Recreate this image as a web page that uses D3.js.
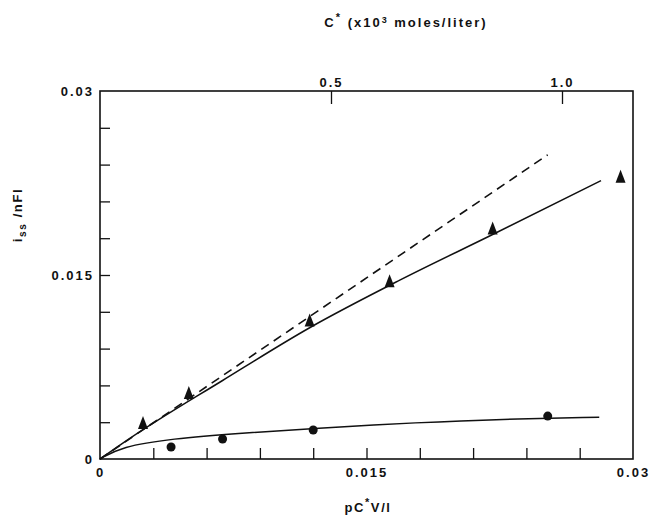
<!DOCTYPE html>
<html>
    <head>
        <title>Steady state current</title>
        <style>
            body, html { margin: 0; padding: 0; background: #fff; }
            svg text { font-family: "Liberation Sans", Arial, sans-serif; fill: #111; font-weight: bold; }
        </style>
    </head>
    <body>
        <svg id="svg" width="649" height="526"></svg>

        <script src="https://d3js.org/d3.v7.min.js"></script>
        <script>
            // data (x = pC*V/l, y = iss/nFl)
            const triangles = [
                [0.00242, 0.00293], [0.0050, 0.00538], [0.0118, 0.0113],
                [0.0163, 0.0145], [0.0221, 0.0188], [0.0293, 0.0230]
            ]
            const circles = [
                [0.0040, 0.00098], [0.0069, 0.00163], [0.0120, 0.00236], [0.0252, 0.0035]
            ]
            const upperFit = [
                [0, 0], [0.0017, 0.0017], [0.0069, 0.0064], [0.0118, 0.0107],
                [0.0169, 0.0146], [0.0221, 0.0183], [0.0282, 0.0227]
            ]
            const lowerFit = [
                [0, 0], [0.0012, 0.0010], [0.0040, 0.00165], [0.0080, 0.00212],
                [0.0120, 0.00250], [0.0180, 0.00298], [0.0225, 0.00325], [0.0281, 0.00340]
            ]
            const dashedLine = [[0, 0], [0.0252, 0.0248]]

            const xTicks = d3.range(0, 11).map(i => i * 0.003)
            const xLabels = { 0: '0', 5: '0.015', 10: '0.03' }
            const yTicks = d3.range(0, 11).map(i => i * 0.003)
            const yLabels = { 0: '0', 5: '0.015', 10: '0.03' }
            const topTicks = [0.5, 1.0]

            const margin = { top: 91, right: 16, bottom: 67, left: 100 }
            const W = 649, H = 526

            const x = d3.scaleLinear().domain([0, 0.03]).range([margin.left, W - margin.right])
            const y = d3.scaleLinear().domain([0, 0.03]).range([H - margin.bottom, margin.top])
            // top axis: concentration, 0 .. 1.0 spans 100 .. 562 px
            const xTop = d3.scaleLinear().domain([0, 1]).range([margin.left, 562])

            const svg = d3.select('#svg')

            // frame
            svg.append('rect')
                .attr('x', x(0)).attr('y', y(0.03))
                .attr('width', x(0.03) - x(0)).attr('height', y(0) - y(0.03))
                .attr('fill', 'none').attr('stroke', '#111').attr('stroke-width', 1.6)

            const styleAxis = g => {
                g.select('.domain').remove()
                g.selectAll('.tick line').attr('stroke', '#111').attr('stroke-width', 1.3)
                g.selectAll('.tick text').attr('font-size', 13).attr('fill', '#111')
                    .attr('letter-spacing', 2)
            }

            // bottom axis
            svg.append('g')
                .attr('transform', `translate(0, ${y(0)})`)
                .call(d3.axisBottom(x)
                    .tickValues(xTicks)
                    .tickSizeInner(-11).tickSizeOuter(0)
                    .tickPadding(9)
                    .tickFormat((d, i) => xLabels[i] || ''))
                .call(styleAxis)
                .call(g => g.selectAll('.tick').filter((d, i) => i === 0 || i === 10).select('line').remove())

            // left axis
            svg.append('g')
                .attr('transform', `translate(${x(0)}, 0)`)
                .call(d3.axisLeft(y)
                    .tickValues(yTicks)
                    .tickSizeInner(-10).tickSizeOuter(0)
                    .tickPadding(6)
                    .tickFormat((d, i) => yLabels[i] || ''))
                .call(styleAxis)
                .call(g => g.selectAll('.tick').filter((d, i) => i === 0 || i === 10).select('line').remove())

            // top axis
            svg.append('g')
                .attr('transform', `translate(0, ${y(0.03)})`)
                .call(d3.axisTop(xTop)
                    .tickValues(topTicks)
                    .tickSizeInner(-13).tickSizeOuter(0)
                    .tickPadding(4)
                    .tickFormat(d3.format('.1f')))
                .call(styleAxis)

            const line = d3.line().x(d => x(d[0])).y(d => y(d[1]))

            svg.append('path')
                .datum(dashedLine)
                .attr('d', line)
                .attr('fill', 'none').attr('stroke', '#111').attr('stroke-width', 1.6)
                .attr('stroke-dasharray', '9,6')

            svg.append('path')
                .datum(upperFit)
                .attr('d', line.curve(d3.curveMonotoneX))
                .attr('fill', 'none').attr('stroke', '#111').attr('stroke-width', 1.5)

            svg.append('path')
                .datum(lowerFit)
                .attr('d', line.curve(d3.curveBasis))
                .attr('fill', 'none').attr('stroke', '#111').attr('stroke-width', 1.5)

            // markers
            svg.append('g').selectAll('path')
                .data(triangles)
                .join('path')
                .attr('transform', d => `translate(${x(d[0])}, ${y(d[1])})`)
                .attr('d', 'M0,-7L5,6L-5,6Z')
                .attr('fill', '#111')

            svg.append('g').selectAll('circle')
                .data(circles)
                .join('circle')
                .attr('cx', d => x(d[0])).attr('cy', d => y(d[1]))
                .attr('r', 4.5)
                .attr('fill', '#111')

            // axis titles
            const topTitle = svg.append('text')
                .attr('x', 406).attr('y', 27)
                .attr('text-anchor', 'middle')
                .attr('font-size', 13).attr('letter-spacing', 2)
            topTitle.append('tspan').text('C')
            topTitle.append('tspan').attr('dy', -6).attr('font-size', 11).text('*')
            topTitle.append('tspan').attr('dy', 6).text('  (x10')
            topTitle.append('tspan').attr('dy', -4).attr('font-size', 9).text('3')
            topTitle.append('tspan').attr('dy', 4).text(' moles/liter)')

            const bottomTitle = svg.append('text')
                .attr('x', 368).attr('y', 512)
                .attr('text-anchor', 'middle')
                .attr('font-size', 13).attr('letter-spacing', 1.6)
            bottomTitle.append('tspan').text('pC')
            bottomTitle.append('tspan').attr('dy', -6).attr('font-size', 11).text('*')
            bottomTitle.append('tspan').attr('dy', 6).text('V/l')

            const leftTitle = svg.append('text')
                .attr('transform', 'translate(22, 215) rotate(-90)')
                .attr('text-anchor', 'middle')
                .attr('font-size', 13).attr('letter-spacing', 1.6)
            leftTitle.append('tspan').text('i')
            leftTitle.append('tspan').attr('dy', 4).attr('font-size', 10).text('ss')
            leftTitle.append('tspan').attr('dy', -4).text(' /nFl')
        </script>
    </body>
</html>
